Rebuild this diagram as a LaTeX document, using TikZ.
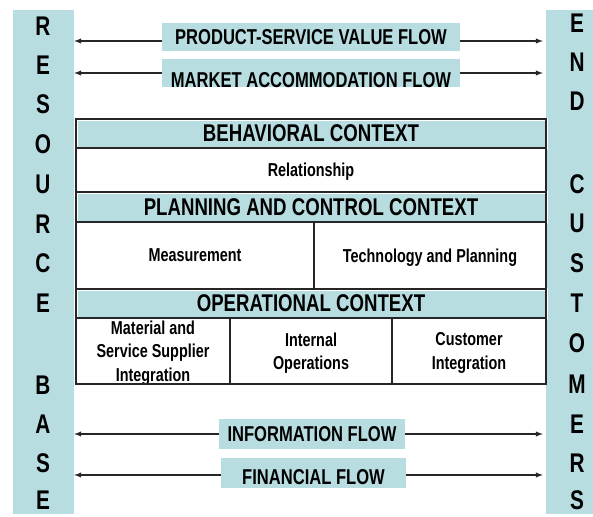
\documentclass[tikz,border=0pt]{standalone}
\usepackage{fontspec}
\usepackage{tikz}
\newfontfamily\estrecha[FakeStretch=0.77]{Liberation Sans}
\definecolor{azulclaro}{RGB}{184,221,225}
\tikzstyle{columna}=[fill=azulclaro, inner sep=0pt]
\tikzstyle{letra}=[inner sep=0pt, font=\estrecha\bfseries\fontsize{27}{30}\selectfont]
\tikzstyle{flujo}=[fill=azulclaro, inner sep=0pt, font=\estrecha\bfseries\fontsize{21.5}{24}\selectfont]
\tikzstyle{cabecera}=[fill=azulclaro, draw=white, line width=3pt, inner sep=0pt, outer sep=0pt, minimum width=470pt, font=\estrecha\bfseries\fontsize{24.2}{28}\selectfont]
\tikzstyle{celda}=[fill=white, draw=black!85, line width=1.5pt, inner sep=0pt, outer sep=0pt, align=center, text depth=0pt, font=\estrecha\bfseries\fontsize{18.7}{23.5}\selectfont]
\tikzstyle{flecha}=[->, >=latex, line width=1.4pt, draw=black!85]

\begin{document}
\begin{tikzpicture}[x=1pt, y=-1pt]
        \useasboundingbox (0,0) rectangle (593,516);

        %% Columnas laterales
        \node[columna, minimum width=61pt, minimum height=504pt] (rec) at (43.5, 262) {};
        \node[columna, minimum width=47pt, minimum height=504pt] (cli) at (569.5, 262) {};
        % Letras, izquierda
        \node[letra] (rb_1) at (43, 26) {R};
        \node[letra] (rb_2) at (43, 65) {E};
        \node[letra] (rb_3) at (43, 104) {S};
        \node[letra] (rb_4) at (43, 144) {O};
        \node[letra] (rb_5) at (43, 184) {U};
        \node[letra] (rb_6) at (43, 224) {R};
        \node[letra] (rb_7) at (43, 263) {C};
        \node[letra] (rb_8) at (43, 303) {E};
        \node[letra] (rb_9) at (43, 385) {B};
        \node[letra] (rb_10) at (43, 424) {A};
        \node[letra] (rb_11) at (43, 463) {S};
        \node[letra] (rb_12) at (43, 500) {E};
        % Letras, derecha
        \node[letra] (ec_1) at (577, 23) {E};
        \node[letra] (ec_2) at (577, 62) {N};
        \node[letra] (ec_3) at (577, 101) {D};
        \node[letra] (ec_4) at (577, 184) {C};
        \node[letra] (ec_5) at (577, 223) {U};
        \node[letra] (ec_6) at (577, 263) {S};
        \node[letra] (ec_7) at (577, 303) {T};
        \node[letra] (ec_8) at (577, 343) {O};
        \node[letra] (ec_9) at (577, 384) {M};
        \node[letra] (ec_10) at (577, 424) {E};
        \node[letra] (ec_11) at (577, 463) {R};
        \node[letra] (ec_12) at (577, 500) {S};

        %% Flujos
        \node[flujo, minimum width=298pt, minimum height=28pt] (pv) at (311, 37.5) {PRODUCT-SERVICE VALUE FLOW};
        \node[flujo, minimum width=298pt, minimum height=27pt, text height=28pt, text depth=0pt] (ma) at (311, 73.5) {MARKET ACCOMMODATION FLOW};
        \node[flujo, minimum width=186pt, minimum height=30pt] (inf) at (312, 434) {INFORMATION FLOW};
        \node[flujo, minimum width=185pt, minimum height=30pt, text height=23.5pt, text depth=0pt] (fin) at (313.5, 473) {FINANCIAL FLOW};
        % Flechas
        \draw[flecha] (pv.west |- 0,41) -- (rec.east |- 0,41);
        \draw[flecha, shorten >=3pt] (pv.east |- 0,41) -- (cli.west |- 0,41);
        \draw[flecha] (ma.west |- 0,73) -- (rec.east |- 0,73);
        \draw[flecha, shorten >=3pt] (ma.east |- 0,73) -- (cli.west |- 0,73);
        \draw[flecha] (inf.west |- 0,434) -- (rec.east |- 0,434);
        \draw[flecha, shorten >=3pt] (inf.east |- 0,434) -- (cli.west |- 0,434);
        \draw[flecha] (fin.west |- 0,475) -- (rec.east |- 0,475);
        \draw[flecha, shorten >=3pt] (fin.east |- 0,475) -- (cli.west |- 0,475);

        %% Contextos
        % Cabeceras
        \node[cabecera, minimum height=29pt] (beh) at (311, 133.5) {BEHAVIORAL CONTEXT};
        \node[cabecera, minimum height=30pt] (pyc) at (311, 207) {PLANNING AND CONTROL CONTEXT};
        \node[cabecera, minimum height=29pt] (opc) at (311, 303.5) {OPERATIONAL CONTEXT};
        % Celdas
        \node[celda, minimum width=470pt, minimum height=44pt] (rel) at (311, 170) {Relationship};
        \node[celda, minimum width=238pt, minimum height=67pt] (med) at (195, 255.5) {Measurement};
        \node[celda, minimum width=232pt, minimum height=67pt] (tec) at (430, 255.5) {Technology and Planning};
        \node[celda, minimum width=154pt, minimum height=66pt] (mat) at (153, 351) {Material and\\Service Supplier\\Integration};
        \node[celda, minimum width=162pt, minimum height=66pt] (int) at (311, 351) {Internal\\Operations};
        \node[celda, minimum width=154pt, minimum height=66pt] (cus) at (469, 351) {Customer\\Integration};
        % Marco
        \draw[line width=1.5pt, black!85] (beh.north west) rectangle (cus.south east);
    \end{tikzpicture}
\end{document}
